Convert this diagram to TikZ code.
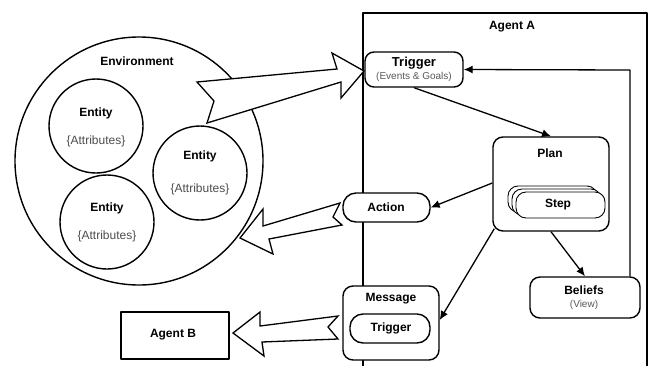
\documentclass[tikz,border=0pt]{standalone}
\usepackage{fontspec}
\setmainfont{Liberation Sans}
\usetikzlibrary{arrows.meta}
\begin{document}
\begin{tikzpicture}[x=1pt,y=-1pt, line width=1.4pt, line join=round,
  bt/.style={font=\fontsize{12}{14}\selectfont\bfseries, inner sep=0},
  st/.style={font=\fontsize{10}{12}\selectfont, text=black!65, inner sep=0},
  attrtxt/.style={font=\fontsize{12}{14}\selectfont, text=black!70, inner sep=0},
  rbox/.style={draw, fill=white, rounded corners=#1, inner sep=0},
  rbox/.default=9pt,
  circ/.style={draw, circle, inner sep=0},
  conn/.style={-{Latex[length=9pt,width=8pt]}, line width=1.3pt},
  fat/.style={draw, fill=white, line width=1.3pt, line join=miter}
]
\useasboundingbox (0,0) rectangle (653,365);
% Agent A frame
\coordinate (aa1) at (363,366);
\coordinate (aa2) at (363,13);
\coordinate (aa3) at (647,13);
\coordinate (aa4) at (647,366);
\draw (aa1) -- (aa2) -- (aa3) -- (aa4);
\node[bt] (agA) at (512,27) {Agent A};

% Environment
\node[circ, minimum size=248pt] (env) at (139,161) {};
\node[bt] (envt) at (137,61) {Environment};
\node[circ, minimum size=94pt] (e1) at (96,126) {};
\node[bt] (e1a) at (96,113) {Entity};
\node[attrtxt] (e1b) at (96,141) {\{Attributes\}};
\node[circ, minimum size=94pt] (e2) at (200,173) {};
\node[bt] (e2a) at (200,156) {Entity};
\node[attrtxt] (e2b) at (200,189) {\{Attributes\}};
\node[circ, minimum size=94pt] (e3) at (107,222) {};
\node[bt] (e3a) at (107,208) {Entity};
\node[attrtxt] (e3b) at (107,236) {\{Attributes\}};

% Agent B
\node[draw, fill=white, minimum width=108pt, minimum height=47pt, inner sep=0] (agB) at (175,335.5) {};
\node[bt] (agBt) at (173,335) {Agent B};

% Fat arrows
\draw[fat] (197,82) -- (337,69) -- (332,53) -- (364,71) -- (341,98) -- (341,82) -- (207,123) -- (214,101) -- cycle;
\draw[fat] (240,238) -- (263,209) -- (263,226) -- (340,203) -- (333,217) -- (342,225) -- (269,239) -- (273,254) -- cycle;
\draw[fat] (233,333) -- (260,312) -- (260,326) -- (338,316) -- (328,327) -- (338,339) -- (262,342) -- (264,356) -- cycle;

% Agent A nodes
\node[rbox, minimum width=98pt, minimum height=35pt] (trig) at (414,69.5) {};
\node[bt, font=\fontsize{13}{15}\selectfont\bfseries] (trigt) at (414,63) {Trigger};
\node[st] (trigs) at (414,77) {(Events \& Goals)};

\node[rbox=10pt, minimum width=116pt, minimum height=94pt] (plan) at (551,184) {};
\node[bt] (plant) at (550,153) {Plan};
\begin{scope}[line width=0.9pt]
\node[rbox=10pt, minimum width=89pt, minimum height=26pt] (s3) at (552.5,199) {};
\node[rbox=10pt, minimum width=89pt, minimum height=26pt] (s2) at (556.5,202) {};
\node[rbox=10pt, minimum width=89pt, minimum height=26pt] (s1) at (560.5,205) {};
\end{scope}
\node[bt] (stept) at (558,204.5) {Step};

\node[rbox=13pt, minimum width=87pt, minimum height=29pt] (act) at (386.5,207.5) {};
\node[bt] (actt) at (386,207) {Action};

\node[rbox=10pt, minimum width=96pt, minimum height=74pt] (msg) at (391,323) {};
\node[bt] (msgt) at (391,299) {Message};
\node[rbox=13pt, minimum width=80pt, minimum height=29pt] (mtrig) at (390,328.5) {};
\node[bt] (mtrigt) at (391,328) {Trigger};

\node[rbox=10pt, minimum width=110pt, minimum height=41pt] (bel) at (585,297.5) {};
\node[bt] (belt) at (584,290) {Beliefs};
\node[st] (bels) at (584,305) {(View)};

% Connectors
\coordinate (corner) at (630,70);
\draw[conn] (trig.south) -- (plan.north);
\draw[conn] ([yshift=1pt]plan.west) -- (act.east);
\draw[conn] ([xshift=2pt,yshift=3pt]plan.south west) -- ([yshift=3pt]msg.east);
\draw[conn] (plan.south) -- (bel.north);
\draw[conn] (bel.north -| corner) -- (corner) -- (trig.east);
\end{tikzpicture}
\end{document}
